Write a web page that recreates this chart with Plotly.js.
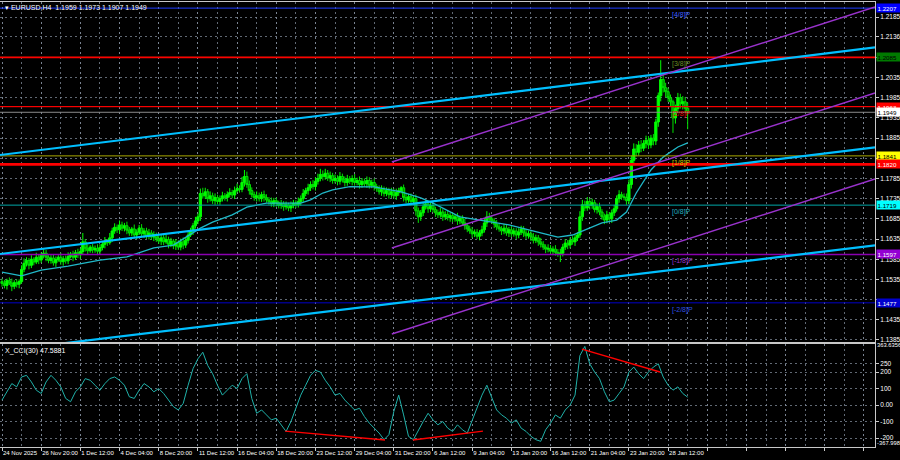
<!DOCTYPE html>
<html><head><meta charset="utf-8">
<script src="https://cdn.plot.ly/plotly-3.0.1.min.js"></script>
<style>html,body{margin:0;padding:0;background:#000;}#chart{width:900px;height:460px;}</style>
</head><body><div id="chart"></div>
<script>
// ---------- DATA ----------
const BASE = 1.1;               // prices stored as pips above 1.1000
const firstOpenPips = 530;
const closePips = [
525,520,532,526,518,527,523,530,560,575,
582,570,585,578,590,583,595,600,590,582,
588,576,584,590,579,586,581,592,598,590,
601,596,604,628,612,606,615,608,612,605,
614,622,630,626,638,655,664,658,670,662,
668,657,650,660,645,652,662,648,655,642,
650,640,646,636,630,638,628,634,622,630,
618,625,615,628,620,632,645,655,668,680,
690,748,742,752,735,742,730,738,728,735,
742,738,745,750,744,755,760,758,775,790,
770,755,745,738,742,735,745,738,732,728,
722,730,725,718,722,715,720,712,718,724,
720,728,735,748,755,762,770,765,778,785,
795,790,798,786,792,780,785,778,790,782,
775,784,778,785,775,780,770,778,772,780,
768,775,765,760,752,758,748,755,745,752,
742,750,755,762,738,732,740,728,735,705,
690,700,715,722,710,718,708,700,695,702,
690,696,688,693,685,690,680,686,675,668,
660,655,648,652,642,650,658,675,690,685,
680,672,665,660,655,662,650,658,648,655,
645,652,660,650,643,648,640,632,638,628,
622,615,610,612,605,610,602,598,600,615,
625,620,632,628,638,645,690,720,712,728,
718,725,708,715,702,690,682,695,685,700,
710,735,745,740,738,730,770,830,858,850,
868,860,872,880,868,885,878,925,990,1030,
1010,1000,985,975,935,958,985,970,975,959,
949];
const upWick = [
7,9,5,8,11,6,8,5,10,12,
8,6,10,5,11,8,7,10,8,5,
7,10,8,5,11,7,8,10,5,8,
7,10,8,22,7,10,5,8,7,10,
8,7,10,5,12,8,10,7,11,8,
7,10,8,5,11,7,8,10,7,8,
10,7,8,5,10,7,8,11,7,8,
5,10,7,8,11,7,10,8,7,10,
8,12,14,10,7,11,8,10,7,8,
10,7,8,11,7,10,12,8,14,16,
12,10,8,7,11,8,7,10,8,7,
10,7,8,5,10,7,8,5,10,8,
7,10,8,11,7,10,8,11,10,12,
14,10,11,8,10,7,10,8,11,7,
8,10,7,8,11,7,10,8,7,10,
8,7,10,7,8,10,7,8,7,10,
8,10,7,4,8,10,7,8,7,10,
8,7,12,10,7,8,10,7,8,10,
7,8,10,7,8,7,10,7,8,10,
7,8,10,7,8,7,10,11,14,10,
8,7,10,8,7,10,8,7,10,8,
7,10,8,7,10,8,7,10,8,7,
10,8,7,10,8,7,10,8,11,8,
10,8,7,10,8,7,14,12,10,11,
8,10,7,8,10,7,8,10,7,8,
10,8,11,7,8,10,12,12,14,12,
10,12,8,11,10,8,10,8,8,48,
14,12,10,8,5,10,12,10,14,12,
14];
const dnWick = [
8,7,10,5,12,7,8,10,5,7,
8,10,7,8,5,10,7,8,10,7,
8,7,10,5,8,10,7,8,5,10,
7,8,10,7,8,10,5,8,7,10,
8,7,10,8,5,10,7,8,10,7,
8,10,7,8,5,10,7,8,10,7,
8,7,10,8,7,10,8,5,10,7,
8,10,7,8,10,7,8,5,10,7,
8,10,7,8,10,7,8,10,7,8,
7,8,10,7,8,10,5,8,7,10,
8,10,7,8,10,7,8,10,7,8,
7,8,10,7,8,10,7,8,10,7,
8,7,10,8,7,10,8,7,10,8,
7,10,8,7,10,8,7,10,8,7,
10,8,7,10,8,7,10,8,7,10,
8,7,10,8,7,10,8,7,10,8,
7,10,8,7,10,8,7,10,8,12,
15,10,8,7,10,8,7,10,8,7,
10,8,7,10,8,7,10,8,7,10,
8,7,10,8,7,10,8,7,10,8,
7,10,8,7,10,8,7,10,8,7,
10,8,7,10,8,7,10,8,7,10,
8,7,10,8,7,10,8,7,20,8,
7,10,8,7,10,8,7,10,8,7,
10,8,7,10,8,7,10,8,7,10,
8,7,10,8,7,10,8,10,12,10,
8,10,7,12,10,8,11,10,12,14,
12,14,10,12,37,14,10,12,14,12,
42];
// moving average (bar index, pips)
const maBars = [0,7,8,16,27,40,51,62,70,81,86,94,100,108,122,126,131,135,142,152,163,171,176,187,199,207,220,227,233,240,245,251,255,259,265,270,276,280];
const maPips = [553,546,544,558,568,583,591,613,620,662,677,695,714,724,724,732,749,757,765,764,752,737,724,690,677,670,650,640,645,662,675,682,702,749,806,838,863,873];
// CCI(30), one value every 2 bars
const cciVals = [
30,80,130,110,170,180,140,90,70,140,
180,150,110,40,20,80,110,160,150,120,
90,130,160,170,150,120,50,40,90,130,
110,80,100,70,30,-10,-30,10,120,220,
280,320,240,190,120,60,90,120,100,160,
190,40,-50,-30,-60,-90,-80,-120,-160,-100,
-20,60,120,180,210,200,150,110,60,70,
30,0,-30,-20,-70,-110,-140,-170,-210,-180,
-40,60,-60,-190,-210,-150,-100,-50,-90,-120,
-100,-140,-160,-120,-150,-170,-90,-20,60,120,
40,-30,-60,-80,-110,-90,-140,-160,-190,-210,
-220,-150,-110,-60,-80,-30,0,60,300,355,
250,200,160,80,20,30,70,110,200,230,
190,160,200,230,250,170,120,90,110,70,
47.59];
// Murray levels
const murrayPrices = [1.2207,1.2085,1.1963,1.1841,1.1719,1.1597,1.1477];
const murrayLabels = ["[4/8]P","[3/8]P","[2/8]P","[1/8]P","[0/8]P","[-1/8]P","[-2/8]P"];
// user horizontal red levels
const redLevels = [1.2085,1.1963,1.1820];
const bidPrice = 1.1949;
// trend lines: bar index / price of both ends
const blueX0 = [-0.82,-0.82,-0.82], blueP0 = [1.18432,1.15980,1.13578];
const blueX1 = [356.5,356.5,356.5], blueP1 = [1.21097,1.18620,1.16193];
const purX0 = [159.2,159.2,159.2], purP0 = [1.18259,1.16129,1.13999];
const purX1 = [356.5,356.5,356.5], purP1 = [1.22098,1.19968,1.17838];
// CCI divergence lines
const divX0 = [236.8,115.6,167.8], divV0 = [339,-158,-212];
const divX1 = [268.7,156.4,196.4], divV1 = [200,-212,-158];
// axes text
const priceTicks = [1.2185,1.2136,1.2085,1.2035,1.1985,1.1935,1.1885,1.1835,1.1785,1.1735,1.1685,1.1635,1.1585,1.1535,1.1485,1.1435,1.1385];
const priceTickText = ["1.2185","1.2136","","1.2035","1.1985","1.1935","1.1885","","1.1785","1.1735","1.1685","1.1635","1.1585","1.1535","","1.1435","1.1385"];
const timeTickBars = [0,16,32,48,64,80,96,112,128,144,160,176,192,208,224,240,256,272,288,304,320,336,352];
const timeTickText = ["24 Nov 2025","26 Nov 20:00","1 Dec 12:00","4 Dec 04:00","8 Dec 20:00","11 Dec 12:00","16 Dec 04:00","18 Dec 20:00","23 Dec 12:00","29 Dec 04:00","31 Dec 20:00","6 Jan 12:00","9 Jan 04:00","13 Jan 20:00","16 Jan 12:00","21 Jan 04:00","23 Jan 20:00","28 Jan 12:00","","","","",""];
const cciTicks = [250,200,100,0,-100,-200];
const cciTickText = ["250","200","100","0.00","-100","-200"];
const cciMaxLabel = ["363.6356", 363.6356];
const cciMinLabel = ["-367.998", -232];
const priceBoxes = [["1.2207",1.2207],["1.2085",1.2085],["1.1963",1.1963],["1.1949",1.1949],["1.1841",1.1841],["1.1820",1.1820],["1.1719",1.1719],["1.1597",1.1597],["1.1477",1.1477]];
const titleText = "EURUSD,H4  1.1959 1.1973 1.1907 1.1949";
const cciTitle = "X_CCI(30) 47.5881";

// ---------- BUILD ----------
const P = v => BASE + v/10000;
const bars = closePips.map((_, i) => i);
const openPips = closePips.map((v, i) => i === 0 ? firstOpenPips : closePips[i-1]);
const closeP = closePips.map(P);
const openP = openPips.map(P);
const highP = closePips.map((v, i) => P(Math.max(v, openPips[i]) + upWick[i]));
const lowP = closePips.map((v, i) => P(Math.min(v, openPips[i]) - dnWick[i]));

const XR = [-0.82, 356.5];
const FONT = "Liberation Sans, Arial, sans-serif";
const GRID = "rgba(130,140,155,0.75)";
const traces = [];

traces.push({type:'candlestick', x:bars, open:openP, high:highP, low:lowP, close:closeP,
  xaxis:'x', yaxis:'y', hoverinfo:'none', whiskerwidth:0,
  increasing:{line:{color:'#00ff00', width:1}, fillcolor:'#00ff00'},
  decreasing:{line:{color:'#00e000', width:1}, fillcolor:'#009000'}});

traces.push({type:'scatter', mode:'lines', x:maBars, y:maPips.map(P), xaxis:'x', yaxis:'y',
  line:{color:'#20b8c8', width:1.3}, hoverinfo:'skip'});

const murrayColors = ['#1e3cff','#008000','#e00000','#a8a800','#00a8a8','#8a00b0','#0000c8'];
const murrayTextColors = ['#3a5cff','#6b8e23','#e00000','#c8c800','#20b0c0','#9932cc','#3050e0'];
murrayPrices.forEach((p, i) => traces.push({type:'scatter', mode:'lines', x:XR, y:[p,p], xaxis:'x', yaxis:'y',
  line:{color:murrayColors[i], width: i===5 ? 1.5 : 1}, hoverinfo:'skip'}));
traces.push({type:'scatter', mode:'lines', x:XR, y:[bidPrice,bidPrice], xaxis:'x', yaxis:'y',
  line:{color:'#8c8c8c', width:1}, hoverinfo:'skip'});
const redW = [1.6, 1, 2.6];
redLevels.forEach((p, i) => traces.push({type:'scatter', mode:'lines', x:XR, y:[p,p], xaxis:'x', yaxis:'y',
  line:{color:'#ff0000', width:redW[i]}, hoverinfo:'skip'}));

blueP0.forEach((_, i) => traces.push({type:'scatter', mode:'lines', x:[blueX0[i],blueX1[i]], y:[blueP0[i],blueP1[i]],
  xaxis:'x', yaxis:'y', line:{color:'#00bfff', width:2.2}, hoverinfo:'skip'}));
purP0.forEach((_, i) => traces.push({type:'scatter', mode:'lines', x:[purX0[i],purX1[i]], y:[purP0[i],purP1[i]],
  xaxis:'x', yaxis:'y', line:{color:'#9932cc', width:1.4}, hoverinfo:'skip'}));

traces.push({type:'scatter', mode:'lines', x:cciVals.map((_, k) => 2*k), y:cciVals, xaxis:'x2', yaxis:'y2',
  line:{color:'#20b2aa', width:1}, hoverinfo:'skip'});
divV0.forEach((_, i) => traces.push({type:'scatter', mode:'lines', x:[divX0[i],divX1[i]], y:[divV0[i],divV1[i]],
  xaxis:'x2', yaxis:'y2', line:{color:'#ff0000', width:1.4}, hoverinfo:'skip'}));

const annotations = [];
annotations.push({xref:'paper', yref:'paper', x:0, y:1, xanchor:'left', yanchor:'top', xshift:3, yshift:0,
  text:'▾ ' + titleText, showarrow:false, font:{family:FONT, size:7, color:'#ffffff'}});
annotations.push({xref:'paper', yref:'paper', x:0, y:0.2315, xanchor:'left', yanchor:'top', xshift:3, yshift:-1,
  text:cciTitle, showarrow:false, font:{family:FONT, size:7, color:'#ffffff'}});
murrayPrices.forEach((p, i) => annotations.push({xref:'x', yref:'y', x:272.8, y:p, xanchor:'left', yanchor:'top',
  yshift:-1, text:murrayLabels[i], showarrow:false, font:{family:FONT, size:7, color:murrayTextColors[i]}}));
const boxBg = ['#0000ff','#007a00','#ff0000','#ffffff','#ffff00','#ff0000','#00ffff','#9400d3','#0000cd'];
const boxFg = ['#ffffff','#000000','#ffffff','#000000','#000000','#ffffff','#000000','#ffffff','#ffffff'];
priceBoxes.forEach((b, i) => annotations.push({xref:'paper', yref:'y', x:1, y:b[1], xanchor:'left', yanchor:'middle',
  xshift:1, text:b[0], showarrow:false, bgcolor:boxBg[i], borderpad:0.5, width:22, align:'left',
  font:{family:FONT, size:6.2, color:boxFg[i]}}));
[cciMaxLabel, cciMinLabel].forEach(l => annotations.push({xref:'paper', yref:'y2', x:1, y:l[1], xanchor:'left',
  yanchor:'middle', xshift:0, text:l[0], showarrow:false, font:{family:FONT, size:5.8, color:'#ffffff'}}));

const axCommon = {range:XR, showline:true, mirror:true, linecolor:'#c8c8c8', linewidth:1,
  tickmode:'array', tickvals:timeTickBars, ticktext:timeTickText,
  showgrid:true, gridcolor:GRID, griddash:'2px,3px', gridwidth:1, zeroline:false, fixedrange:true,
  minor:{tickmode:'linear', tick0:0, dtick:8, showgrid:true, gridcolor:GRID, griddash:'2px,3px', gridwidth:1, ticks:''}};

const layout = {
  width:900, height:460, margin:{l:0, r:25, t:2, b:13},
  paper_bgcolor:'#000000', plot_bgcolor:'#000000', showlegend:false, dragmode:false,
  boxgap:0.1, boxgroupgap:0,
  font:{family:FONT, size:6.5, color:'#ffffff'},
  xaxis: Object.assign({}, axCommon, {anchor:'y', showticklabels:false, ticks:'', rangeslider:{visible:false}}),
  xaxis2: Object.assign({}, axCommon, {anchor:'y2', matches:'x', showticklabels:true, ticks:'outside', ticklen:3,
    tickcolor:'#c8c8c8', tickangle:0, ticklabelposition:'outside right', tickfont:{family:FONT, size:6, color:'#ffffff'},
    rangeslider:{visible:false}}),
  yaxis: {domain:[0.236,1], range:[1.138005,1.222215], side:'right', showline:true, mirror:true, linecolor:'#c8c8c8',
    tickmode:'array', tickvals:priceTicks, ticktext:priceTickText, ticks:'outside', ticklen:3, tickcolor:'#c8c8c8',
    tickfont:{family:FONT, size:6.5, color:'#ffffff'}, showgrid:true, gridcolor:GRID, griddash:'2px,3px',
    zeroline:false, fixedrange:true},
  yaxis2: {domain:[0,0.2315], range:[-254.5,370], side:'right', showline:true, mirror:true, linecolor:'#c8c8c8',
    tickmode:'array', tickvals:cciTicks, ticktext:cciTickText, ticks:'outside', ticklen:3, tickcolor:'#c8c8c8',
    tickfont:{family:FONT, size:6.5, color:'#ffffff'}, showgrid:true, gridcolor:GRID, griddash:'2px,3px',
    zeroline:false, fixedrange:true},
  annotations: annotations
};

Plotly.newPlot('chart', traces, layout, {staticPlot:true, displayModeBar:false});
</script>
</body></html>
